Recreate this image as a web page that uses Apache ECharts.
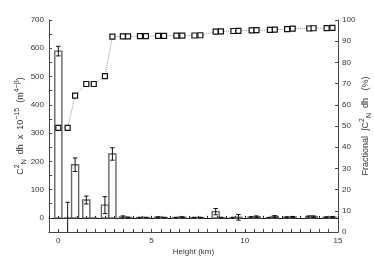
<!DOCTYPE html>
<html><head><meta charset="utf-8">
<script src="https://cdn.jsdelivr.net/npm/echarts@6/dist/echarts.min.js"></script>
<style>html,body{margin:0;padding:0;background:#fff}#c{width:374px;height:262px}</style>
</head><body><div id="c"></div>
<script>
// Heights (km) of each layer
const heights = [0, 0.5, 0.9, 1.5, 1.9, 2.5, 2.9, 3.46, 3.74, 4.38, 4.7, 5.35, 5.67, 6.33, 6.65, 7.3, 7.62,
  8.44, 8.72, 9.39, 9.66, 10.37, 10.63, 11.35, 11.61, 12.27, 12.57, 13.46, 13.69, 14.39, 14.7];
// Cn2 dh x 1e-15 (left axis)
const cn2 = [590, 0, 188, 63, 0, 45, 226, 3, 1, 1, 1, 2, 1, 1, 2, 1, 1,
  22, 1, 1, 2, 3, 4, 1, 5, 2, 3, 5, 4, 2, 3];
// error bar half-lengths
const cn2Err = [17, 55, 24, 14, 0, 30, 22, 4, 2, 1, 1, 2, 1, 1, 2, 1, 1,
  11, 1, 1, 10, 2, 3, 1, 3, 2, 2, 2, 3, 2, 2];
// Fractional cumulative Cn2 dh (%) (right axis)
const fraction = [49.1, 49.1, 64.3, 69.8, 69.8, 73.5, 92.2, 92.3, 92.3, 92.4, 92.4, 92.5, 92.5, 92.6, 92.6, 92.7, 92.8,
  94.5, 94.6, 94.8, 94.9, 95.1, 95.2, 95.3, 95.5, 95.7, 95.9, 96.0, 96.1, 96.2, 96.3];
const xLabels = [0, 5, 10, 15];
const leftLabels = [0, 100, 200, 300, 400, 500, 600, 700];

const FONT = 'Liberation Sans, Arial, sans-serif';
const TXT = '#333';
const AX = '#444';

const barData = heights.map((h, i) => [h, cn2[i], cn2Err[i]]);
const lineData = heights.map((h, i) => [h, fraction[i]]);

const chart = echarts.init(document.getElementById('c'), null, {renderer: 'canvas'});
const halfW = 0.19;
const richName = {
  m: {fontSize: 9, color: TXT, fontFamily: FONT, lineHeight: 14, verticalAlign: 'middle'},
  s: {fontSize: 7, color: TXT, fontFamily: FONT, lineHeight: 14, verticalAlign: 'top'},
  b: {fontSize: 7, color: TXT, fontFamily: FONT, lineHeight: 14, verticalAlign: 'bottom'}
};
chart.setOption({
  animation: false,
  backgroundColor: '#fff',
  textStyle: {fontFamily: FONT},
  grid: {left: 49, right: 36, top: 20, bottom: 30, containLabel: false, outerBoundsMode: 'none'},
  xAxis: [{
    type: 'value', min: -0.5, max: 15, interval: 0.5, position: 'bottom',
    name: 'Height (km)', nameLocation: 'middle', nameGap: 16, nameMoveOverlap: false,
    nameTextStyle: {fontSize: 8, color: TXT, fontFamily: FONT},
    axisLine: {onZero: false, lineStyle: {color: AX, width: 1}},
    axisTick: {inside: true, length: 3, lineStyle: {color: AX}},
    axisLabel: {fontSize: 8, color: TXT, margin: 5, fontFamily: FONT,
      formatter: v => xLabels.includes(v) ? String(v) : ''},
    splitLine: {show: false}
  }, {
    type: 'value', min: -0.5, max: 15, interval: 0.5, position: 'bottom',
    axisLine: {onZero: true, onZeroAxisIndex: 0, lineStyle: {color: '#111', width: 1}},
    axisTick: {inside: true, length: 2, lineStyle: {color: '#111'}},
    axisLabel: {show: false},
    splitLine: {show: false}
  }],
  yAxis: [{
    type: 'value', min: -50, max: 700, interval: 50, position: 'left',
    name: '{m|C}{s|2}{b|N}{m|  dh  x  10}{s|−15}{m|  (m}{s|4−β}{m|)}',
    nameLocation: 'middle', nameGap: 21, nameRotate: 90, nameMoveOverlap: false,
    nameTextStyle: {color: TXT, fontSize: 9, fontFamily: FONT, rich: richName},
    axisLine: {show: true, onZero: false, lineStyle: {color: AX, width: 1}},
    axisTick: {inside: true, length: 3, lineStyle: {color: AX}},
    axisLabel: {fontSize: 8, color: TXT, margin: 5, fontFamily: FONT,
      formatter: v => leftLabels.includes(v) ? String(v) : ''},
    splitLine: {show: false}
  }, {
    type: 'value', min: 0, max: 100, interval: 10, position: 'right',
    name: '{m|Fractional  ∫C}{s|2}{b|N}{m|  dh   (%)}',
    nameLocation: 'middle', nameGap: 21, nameRotate: 90, nameMoveOverlap: false,
    nameTextStyle: {color: TXT, fontSize: 9, fontFamily: FONT, rich: richName},
    axisLine: {show: true, onZero: false, lineStyle: {color: AX, width: 1}},
    axisTick: {inside: true, length: 3, lineStyle: {color: AX}},
    axisLabel: {fontSize: 8, color: TXT, margin: 4, fontFamily: FONT},
    splitLine: {show: false}
  }],
  series: [{
    type: 'custom',
    xAxisIndex: 0, yAxisIndex: 0,
    clip: true,
    z: 2,
    data: barData,
    renderItem: (params, api) => {
      const x = api.value(0), v = api.value(1), e = api.value(2);
      const p0 = api.coord([x - halfW, 0]);
      const p1 = api.coord([x + halfW, v]);
      const children = [];
      children.push({type: 'rect',
        shape: {x: p0[0], y: Math.min(p0[1], p1[1]), width: p1[0] - p0[0], height: Math.abs(p1[1] - p0[1])},
        style: {fill: 'rgba(255,255,255,0)', stroke: '#666', lineWidth: 1.4}});
      if (e > 0) {
        const t = api.coord([x, v + e]);
        const b = api.coord([x, v - e]);
        const cw = 2.2;
        children.push({type: 'line', shape: {x1: t[0], y1: t[1], x2: b[0], y2: b[1]}, style: {stroke: '#111', lineWidth: 1}});
        children.push({type: 'line', shape: {x1: t[0] - cw, y1: t[1], x2: t[0] + cw, y2: t[1]}, style: {stroke: '#111', lineWidth: 1}});
        children.push({type: 'line', shape: {x1: b[0] - cw, y1: b[1], x2: b[0] + cw, y2: b[1]}, style: {stroke: '#111', lineWidth: 1}});
      }
      return {type: 'group', children};
    }
  }, {
    type: 'line',
    xAxisIndex: 0, yAxisIndex: 1,
    z: 5,
    data: lineData,
    symbol: 'rect', symbolSize: 5,
    itemStyle: {color: '#fff', borderColor: '#111', borderWidth: 1.2},
    lineStyle: {color: '#999', type: 'dotted', width: 1}
  }]
});
</script>
</body></html>
